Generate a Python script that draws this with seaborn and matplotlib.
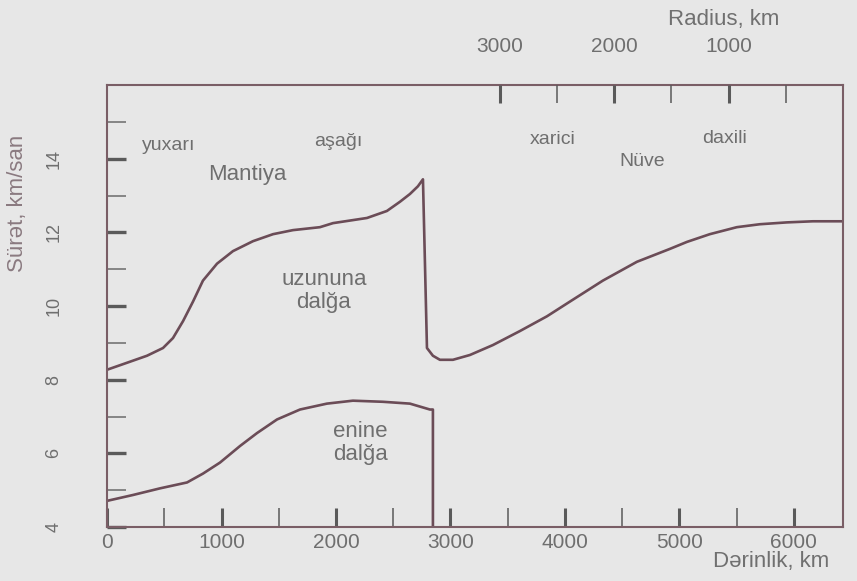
import numpy as np
import pandas as pd
import matplotlib
matplotlib.use("Agg")
import matplotlib.pyplot as plt
import seaborn as sns

# ---- data ----
p_depth = [0, 175, 349, 489, 576, 664, 751, 838, 961, 1100, 1275, 1450, 1624, 1860,
           1974, 2271, 2445, 2559, 2646, 2716, 2760,
           2795, 2847, 2908, 3022, 3170, 3371, 3607, 3843, 4044, 4332, 4629, 4917,
           5066, 5266, 5502, 5703, 5939, 6166, 6384, 6430]
p_speed = [8.27, 8.46, 8.65, 8.86, 9.13, 9.59, 10.12, 10.69, 11.15, 11.49, 11.76, 11.95, 12.06, 12.14,
           12.25, 12.39, 12.58, 12.83, 13.04, 13.25, 13.44,
           8.86, 8.65, 8.54, 8.54, 8.67, 8.94, 9.32, 9.72, 10.12, 10.69, 11.20, 11.55,
           11.74, 11.95, 12.14, 12.22, 12.27, 12.30, 12.30, 12.30]

s_depth = [0, 227, 463, 699, 838, 987, 1162, 1310, 1485, 1686, 1921, 2148, 2410, 2646,
           2821, 2847, 2847]
s_speed = [4.71, 4.87, 5.05, 5.21, 5.45, 5.75, 6.20, 6.55, 6.92, 7.19, 7.35, 7.43, 7.40, 7.35,
           7.19, 7.19, 4.0]

depth_ticks = [0, 1000, 2000, 3000, 4000, 5000, 6000]
depth_minor = [500, 1500, 2500, 3500, 4500, 5500]
speed_ticks = [4, 6, 8, 10, 12, 14]
speed_minor = [5, 7, 9, 11, 13, 15]
radius_major = [3000, 2000, 1000]
radius_minor = [2500, 1500, 500]
earth_r = 6430  # radius axis: R = earth_r - depth (as drawn)

region_labels = ["yuxarı", "Mantiya", "aşağı", "xarici", "Nüve", "daxili"]
region_x = [541, 1223, 2017, 3895, 4672, 5397]
region_y = [14.36, 13.58, 14.47, 14.53, 13.93, 14.55]
region_size = [14, 16, 14, 14, 14, 14]

wave_labels = ["uzununa\ndalğa", "enine\ndalğa"]
wave_x = [1895, 2210]
wave_y = [10.40, 6.28]

# ---- styling ----
sns.set_theme(style="white")
plt.rcParams["font.family"] = ["Liberation Sans", "DejaVu Sans"]

bg = "#e7e7e7"
ink = "#6b4c57"
txt = "#6f6f6f"

fig = plt.figure(figsize=(8.57, 5.81), dpi=100, facecolor=bg)
ax = fig.add_axes([0.1249, 0.0929, 0.8588, 0.7608], facecolor=bg)

df_p = pd.DataFrame({"depth": p_depth, "speed": p_speed})
df_s = pd.DataFrame({"depth": s_depth, "speed": s_speed})
sns.lineplot(data=df_p, x="depth", y="speed", sort=False, estimator=None,
             color=ink, lw=1.9, ax=ax)
sns.lineplot(data=df_s, x="depth", y="speed", sort=False, estimator=None,
             color=ink, lw=1.9, ax=ax)

ax.set_xlim(0, earth_r)
ax.set_ylim(4, 16)

for sp in ax.spines.values():
    sp.set_color("#7a5e66")
    sp.set_linewidth(1.5)

# bottom axis
ax.set_xticks(depth_ticks)
ax.set_xticks(depth_minor, minor=True)
ax.set_xticklabels([str(v) for v in depth_ticks])
ax.tick_params(axis="x", which="major", direction="in", length=14, width=2.2,
               color="#5a5a5a", labelsize=15, labelcolor=txt, pad=4, bottom=True)
ax.tick_params(axis="x", which="minor", direction="in", length=14, width=1.1,
               color="#5a5a5a", bottom=True)
ax.set_xlabel("")

# left axis
ax.set_yticks(speed_ticks)
ax.set_yticks(speed_minor, minor=True)
ax.set_yticklabels([str(v) for v in speed_ticks], rotation=90, va="center")
ax.tick_params(axis="y", which="major", direction="in", length=14, width=2.4,
               color="#5a5a5a", labelsize=13, labelcolor=txt, pad=32, left=True)
ax.tick_params(axis="y", which="minor", direction="in", length=14, width=1.1,
               color="#6a6a6a", left=True)
ax.set_ylabel("Sürət, km/san", fontsize=16, color="#8a7a80")
ax.yaxis.set_label_coords(-0.107, 0.732)

# top radius axis
ax2 = ax.twiny()
ax2.set_xlim(ax.get_xlim())
ax2.set_xticks([earth_r - r for r in radius_major])
ax2.set_xticklabels([str(r) for r in radius_major])
ax2.set_xticks([earth_r - r for r in radius_minor], minor=True)
ax2.tick_params(axis="x", which="major", direction="in", length=13, width=2.2,
                color="#5a5a5a", labelsize=15, labelcolor=txt, pad=21, top=True)
ax2.tick_params(axis="x", which="minor", direction="in", length=13, width=1.1,
                color="#5a5a5a", top=True)
for sp in ax2.spines.values():
    sp.set_visible(False)

# annotations
for lab, x, y, fs in zip(region_labels, region_x, region_y, region_size):
    ax.text(x, y, lab, ha="center", va="center", fontsize=fs, color=txt)
for lab, x, y in zip(wave_labels, wave_x, wave_y):
    ax.text(x, y, lab, ha="center", va="center", fontsize=16, color=txt,
            linespacing=1.15)

fig.text(724 / 857, 1 - 19 / 581, "Radius, km", ha="center", va="center",
         fontsize=16, color="#707070")
fig.text(771 / 857, 1 - 561 / 581, "Dərinlik, km", ha="center", va="center",
         fontsize=16, color="#707070")

fig.savefig("out.png", dpi=100, facecolor=bg)
